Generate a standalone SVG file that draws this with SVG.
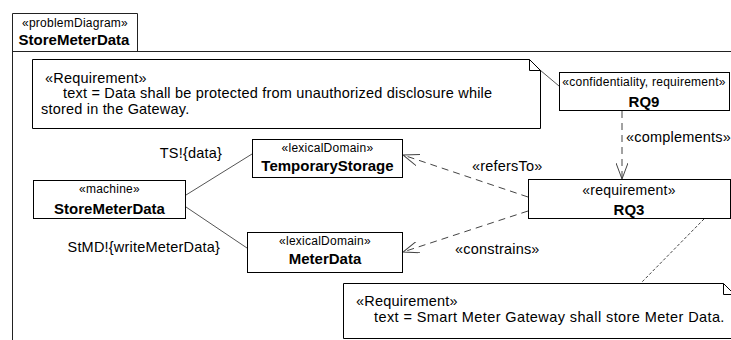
<svg xmlns="http://www.w3.org/2000/svg" width="731" height="340" viewBox="0 0 731 340">
<style>
text{font-family:"Liberation Sans",Arial,sans-serif;fill:#000}
.st{font-size:12px;letter-spacing:0.25px;text-anchor:middle}
.nm{font-size:15px;font-weight:bold;text-anchor:middle}
.tx{font-size:14.5px;letter-spacing:0.2px}
.box{fill:#fff;stroke:#000;stroke-width:1}
.note{fill:#fff;stroke:#000;stroke-width:1}
.ln{fill:none;stroke:#555;stroke-width:1}
.dash{fill:none;stroke:#444;stroke-width:1;stroke-dasharray:7,5}
.fine{fill:none;stroke:#444;stroke-width:1;stroke-dasharray:3,2}
</style>
<defs>
<marker id="open" viewBox="0 0 16 12" refX="16" refY="6" markerWidth="16" markerHeight="12" markerUnits="userSpaceOnUse" orient="auto">
<path d="M0,0 L16,6 L0,12" fill="none" stroke="#444" stroke-width="1" stroke-dasharray="none"/>
</marker>
</defs>
<rect width="731" height="340" fill="#fff"/>
<g id="frame">
<path d="M12.5,340 V13.5 H137.5 V51.5 M12.5,51.5 H731" fill="none" stroke="#222" stroke-width="1"/>
<text class="st" x="75" y="27">«problemDiagram»</text>
<text class="nm" x="74" y="45">StoreMeterData</text>
</g>
<g id="connectors">
<line class="ln" x1="186" y1="195" x2="252" y2="154"/>
<line class="ln" x1="186" y1="207" x2="247" y2="248"/>
<text class="tx" x="222" y="158" text-anchor="end">TS!{data}</text>
<text class="tx" x="220" y="252" text-anchor="end">StMD!{writeMeterData}</text>
<line class="dash" x1="622" y1="111" x2="622" y2="179" marker-end="url(#open)"/>
<text class="tx" x="626" y="142">«complements»</text>
<line class="dash" x1="528" y1="197" x2="403" y2="155" marker-end="url(#open)"/>
<text class="tx" x="472" y="171">«refersTo»</text>
<line class="dash" x1="528" y1="211" x2="403" y2="252" marker-end="url(#open)"/>
<text class="tx" x="455" y="254">«constrains»</text>
<line class="fine" x1="704" y1="219" x2="641" y2="283"/>
<line class="ln" x1="540" y1="70" x2="559" y2="86"/>
</g>
<g id="note1">
<path class="note" d="M32.5,59.5 H529.5 L540.5,70.5 V128.5 H32.5 Z M529.5,59.5 V70.5 H540.5"/>
<text class="tx" x="45" y="83">«Requirement»</text>
<text class="tx" x="63" y="98">text = Data shall be protected from unauthorized disclosure while</text>
<text class="tx" x="41" y="114">stored in the Gateway.</text>
</g>
<g id="RQ9">
<rect class="box" x="559.5" y="72.5" width="170" height="38"/>
<text class="st" x="644" y="86">«confidentiality, requirement»</text>
<text class="nm" x="644" y="107">RQ9</text>
</g>
<g id="machine">
<rect class="box" x="33.5" y="180.5" width="152" height="38"/>
<text class="st" x="109.5" y="193">«machine»</text>
<text class="nm" x="109.5" y="214">StoreMeterData</text>
</g>
<g id="TemporaryStorage">
<rect class="box" x="252.5" y="139.5" width="150" height="38"/>
<text class="st" x="327.5" y="152">«lexicalDomain»</text>
<text class="nm" x="327.5" y="171">TemporaryStorage</text>
</g>
<g id="MeterData">
<rect class="box" x="247.5" y="232.5" width="155" height="40"/>
<text class="st" x="325" y="245">«lexicalDomain»</text>
<text class="nm" x="325" y="264">MeterData</text>
</g>
<g id="RQ3">
<rect class="box" x="528.5" y="179.5" width="202" height="39"/>
<text class="st" x="629" y="195" style="font-size:14px">«requirement»</text>
<text class="nm" x="629" y="215">RQ3</text>
</g>
<g id="note2">
<path class="note" d="M343.5,283.5 H723.5 L734.5,294.5 V338.5 H343.5 Z M723.5,283.5 V294.5 H734.5"/>
<text class="tx" x="356" y="306">«Requirement»</text>
<text class="tx" x="374" y="322" style="letter-spacing:0.4px">text = Smart Meter Gateway shall store Meter Data.</text>
</g>
</svg>
